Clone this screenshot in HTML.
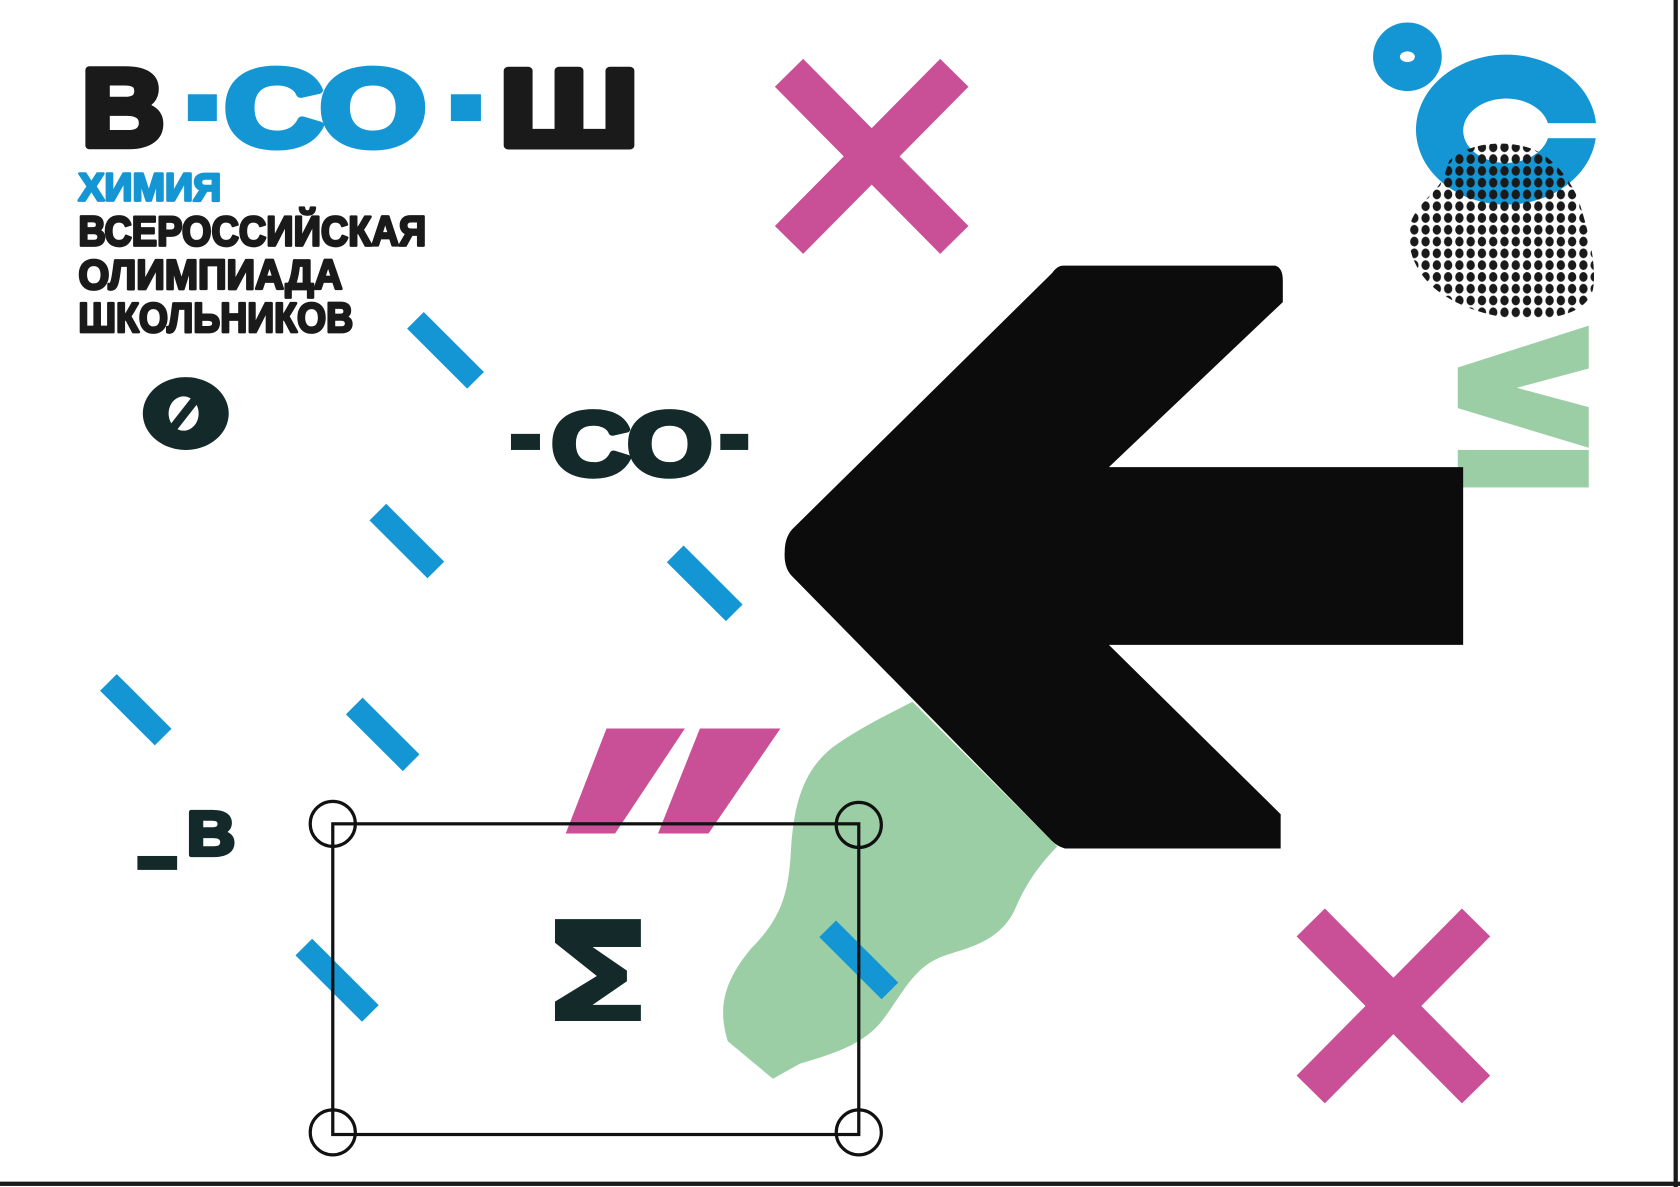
<!DOCTYPE html>
<html><head><meta charset="utf-8"><style>
html,body{margin:0;padding:0;background:#fff;}
svg{display:block;}
text{font-family:"Liberation Sans","DejaVu Sans",sans-serif;font-weight:bold;}
</style></head><body>
<svg width="1680" height="1187" viewBox="0 0 1565 1108" preserveAspectRatio="none" xmlns="http://www.w3.org/2000/svg">
<defs>
<pattern id="dots" x="0" y="0" width="10.5" height="11" patternUnits="userSpaceOnUse">
<ellipse cx="5" cy="5.5" rx="3.9" ry="4.6" fill="#1a1a1a"/>
</pattern>
<clipPath id="blobc"><path d="M1350,150 C1365,135 1400,128 1430,140 C1450,150 1462,168 1470,185 C1478,210 1488,245 1484,270 C1478,292 1450,298 1420,298 C1390,297 1360,287 1340,272 C1320,257 1308,232 1314,208 C1320,190 1340,178 1345,165 Z"/></clipPath>
</defs>
<rect width="1565" height="1108" fill="#fff"/>
<rect x="1559" y="0" width="4" height="1108" fill="#1a1a1a"/>
<rect x="0" y="1103" width="1565" height="4" fill="#1a1a1a"/>

<!-- logo -->
<g stroke-width="7" stroke-linejoin="round">
<text transform="translate(76,136) scale(1.05,1)" font-size="102" fill="#1a1a1a" stroke="#1a1a1a">В</text>
<rect x="175" y="88" width="27" height="25" fill="#1496d4" stroke="none"/>
<text transform="translate(209,136) scale(1.25,1)" font-size="102" fill="#1496d4" stroke="#1496d4">СО</text>
<rect x="420" y="88" width="28" height="25" fill="#1496d4" stroke="none"/>
<text transform="translate(465,136) scale(1.27,1)" font-size="102" fill="#1a1a1a" stroke="#1a1a1a">Ш</text>
</g>

<g stroke-width="2.5" stroke-linejoin="round">
<text x="73" y="187" font-size="36" fill="#1496d4" stroke="#1496d4" textLength="133" lengthAdjust="spacingAndGlyphs">ХИМИЯ</text>
<text x="73" y="229" font-size="39" fill="#1a1a1a" stroke="#1a1a1a" textLength="324" lengthAdjust="spacingAndGlyphs">ВСЕРОССИЙСКАЯ</text>
<text x="73" y="270" font-size="39" fill="#1a1a1a" stroke="#1a1a1a" textLength="246" lengthAdjust="spacingAndGlyphs">ОЛИМПИАДА</text>
<text x="73" y="310" font-size="39" fill="#1a1a1a" stroke="#1a1a1a" textLength="256" lengthAdjust="spacingAndGlyphs">ШКОЛЬНИКОВ</text>
</g>

<!-- ø -->
<path fill-rule="evenodd" fill="#13292a" d="M173,352 a40,34 0 1,0 0.1,0 Z M171,370 a14,16 0 1,0 0.1,0 Z"/>
<rect x="168" y="362" width="8" height="48" fill="#13292a" transform="rotate(38 173 386)"/>

<!-- -СО- -->
<rect x="476" y="405" width="27" height="15" fill="#13292a"/>
<text transform="translate(514,443) scale(1.22,1)" font-size="83" fill="#13292a" stroke="#13292a" stroke-width="6" stroke-linejoin="round">СО</text>
<rect x="671" y="405" width="26" height="15" fill="#13292a"/>

<!-- _В -->
<rect x="128" y="799" width="37" height="13" fill="#13292a"/>
<text transform="translate(174,798) scale(1.08,1)" font-size="58" fill="#13292a" stroke="#13292a" stroke-width="4" stroke-linejoin="round">В</text>

<!-- pink X's -->
<g stroke="#c94f97" stroke-width="37">
<line x1="735" y1="68" x2="889" y2="224"/>
<line x1="889" y1="68" x2="735" y2="224"/>
<line x1="1221" y1="861" x2="1375" y2="1017"/>
<line x1="1375" y1="861" x2="1221" y2="1017"/>
</g>

<!-- green blob -->
<path fill="#9ccea6" d="M850,655 L985,790 C970,805 955,825 945,850 C930,880 900,885 880,892 C850,902 840,930 820,955 C800,978 770,985 745,993 L720,1007 L678,972 C668,940 675,915 700,885 C730,855 735,830 737,790 C740,750 748,720 775,698 C800,680 825,668 850,655 Z"/>

<!-- green ≥ -->
<polygon fill="#9ccea6" points="1480,304 1480,344 1413,362 1480,380 1480,418 1358,381 1358,343"/>
<rect x="1358" y="420" width="122" height="35" fill="#9ccea6"/>

<!-- arrow -->
<path fill="#0b0c0b" d="M990,248 L1188,248 Q1195,250 1195,262 L1195,282 L1033,436 L1363,436 L1363,602 L1033,602 L1193,760 L1193,792 L992,792 Q985,790 980,785 L738,538 Q730,530 731,515 Q731,500 740,492 L980,255 Q985,248 990,248 Z"/>

<!-- pink quotes -->
<polygon fill="#c94f97" points="565,680 638,680 573,778 527,778"/>
<polygon fill="#c94f97" points="652,680 727,680 660,778 613,778"/>

<!-- blue dashes -->
<g stroke="#1496d4" stroke-width="22">
<line x1="387" y1="299" x2="443" y2="355"/>
<line x1="352" y1="478" x2="406" y2="532"/>
<line x1="629" y1="517" x2="684" y2="572"/>
<line x1="101" y1="637" x2="152" y2="688"/>
<line x1="330" y1="659" x2="383" y2="712"/>
<line x1="283" y1="884" x2="345" y2="946"/>
<line x1="771" y1="867" x2="829" y2="925"/>
</g>

<!-- rectangle with corner circles -->
<rect x="310" y="769" width="490" height="290" fill="none" stroke="#111" stroke-width="3"/>
<g fill="none" stroke="#111" stroke-width="3">
<circle cx="310" cy="769" r="21"/>
<circle cx="800" cy="770" r="21"/>
<circle cx="310" cy="1057" r="21"/>
<circle cx="800" cy="1057" r="21"/>
</g>

<!-- Σ -->
<polygon fill="#13292a" points="517,858 597,858 597,884 552,884 584,906 584,916 552,938 597,938 597,953 517,953 517,935 556,911 517,880"/>

<!-- °C -->
<path fill-rule="evenodd" fill="#1496d4" d="M1311,21 a32,32 0 1,0 0.1,0 Z M1311,48 a7,5 0 1,0 0.1,0 Z"/>
<path fill-rule="evenodd" fill="#1496d4" d="M1403,51 a84,70 0 1,0 0.1,0 Z M1403,92 a40,30 0 1,0 0.1,0 Z"/>
<rect x="1403" y="115" width="90" height="14" fill="#fff"/>
<rect x="1300" y="125" width="195" height="180" fill="url(#dots)" clip-path="url(#blobc)"/>
</svg>
</body></html>
